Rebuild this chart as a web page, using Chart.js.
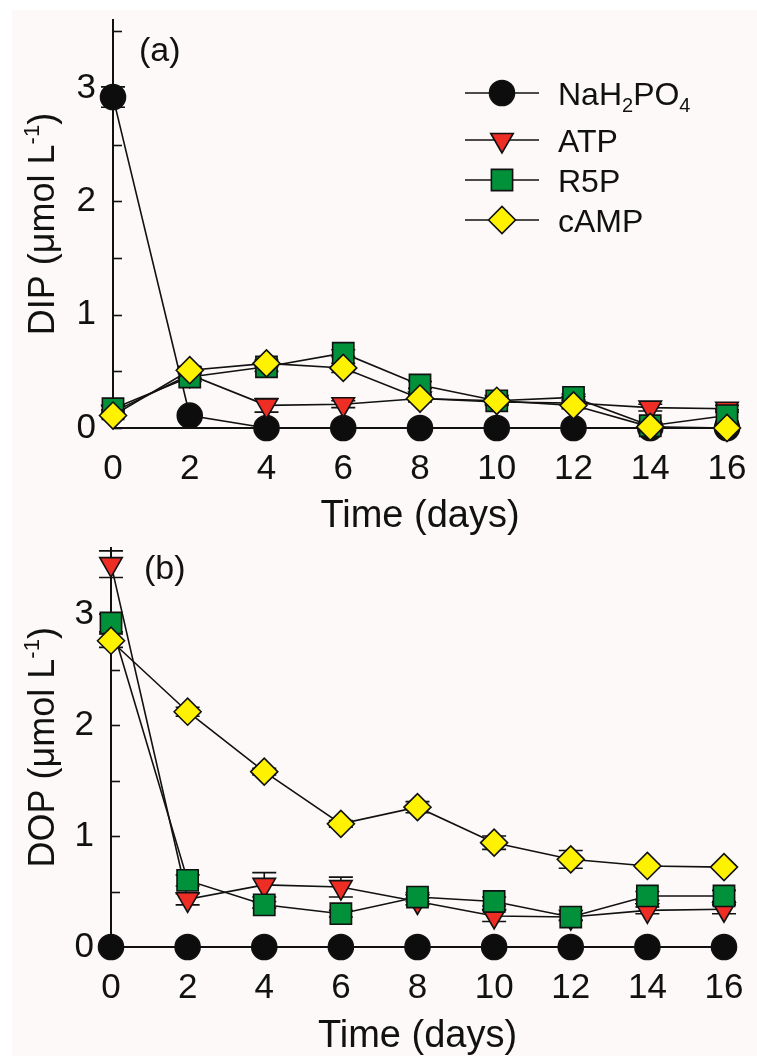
<!DOCTYPE html>
<html>
<head>
<meta charset="utf-8">
<script src="https://cdn.jsdelivr.net/npm/chart.js@4.4.1/dist/chart.umd.min.js"></script>
<style>
body{margin:0;background:#fff;width:757px;height:1056px;overflow:hidden;}
#bg{position:absolute;left:12px;top:10px;width:745px;height:1046px;background:#fcf9f8;}
canvas{position:absolute;left:0;}
</style>
</head>
<body>
<div id="bg"></div>
<canvas id="chartB" width="757" height="526" style="top:530px"></canvas>
<canvas id="chartA" width="757" height="545" style="top:0px"></canvas>
<script>
const days = [0, 2, 4, 6, 8, 10, 12, 14, 16];
const yTicks = [0, 1, 2, 3];
const yMinor = [0.5, 1.5, 2.5, 3.5];

// (a) DIP, umol/L
const dipNa   = [2.92, 0.11, 0, 0, 0, 0, 0, 0, 0];
const dipATP  = [0.14, 0.47, 0.20, 0.21, 0.26, 0.23, 0.22, 0.18, 0.17];
const dipR5P  = [0.17, 0.45, 0.54, 0.66, 0.38, 0.24, 0.27, 0.02, 0.11];
const dipCAMP = [0.11, 0.51, 0.57, 0.53, 0.26, 0.24, 0.20, 0.01, 0.00];
const dipNaErr   = [0.09, 0.02, 0, 0, 0, 0, 0, 0, 0];
const dipATPErr  = [0.02, 0.03, 0.06, 0.03, 0.02, 0.03, 0.03, 0.03, 0.03];
const dipR5PErr  = [0.03, 0.04, 0.04, 0.03, 0.03, 0.03, 0.03, 0.02, 0.05];
const dipCAMPErr = [0.02, 0.03, 0.03, 0.04, 0.03, 0.02, 0.03, 0.01, 0.02];

// (b) DOP, umol/L
const dopNa   = [0, 0, 0, 0, 0, 0, 0, 0, 0];
const dopATP  = [3.45, 0.43, 0.56, 0.54, 0.41, 0.28, 0.27, 0.33, 0.34];
const dopR5P  = [2.92, 0.60, 0.38, 0.30, 0.45, 0.41, 0.27, 0.46, 0.46];
const dopCAMP = [2.76, 2.12, 1.58, 1.11, 1.26, 0.94, 0.79, 0.73, 0.72];
const dopNaErr   = [0, 0, 0, 0, 0, 0, 0, 0, 0];
const dopATPErr  = [0.12, 0.05, 0.11, 0.09, 0.03, 0.05, 0.03, 0.03, 0.04];
const dopR5PErr  = [0.08, 0.05, 0.03, 0.03, 0.04, 0.04, 0.03, 0.04, 0.05];
const dopCAMPErr = [0.06, 0.04, 0.03, 0.03, 0.05, 0.06, 0.08, 0.02, 0.02];

const FONT = '"Liberation Sans", Arial, sans-serif';
Chart.defaults.font.family = FONT;
Chart.defaults.color = '#111';

// marker looks: NaH2PO4, ATP, R5P, cAMP
const looks = [
  {style: 'circle',  radius: 12.5, fill: '#0d0d0d', rot: 0},
  {style: 'triangle', radius: 13, fill: '#ee2d24', rot: 180},
  {style: 'rect',    radius: 15, fill: '#00913a', rot: 0},
  {style: 'rectRot', radius: 13.5, fill: '#fff200', rot: 0}
];

function makeSets(lists, errs){
  return lists.map((vals, k) => ({
    label: ['NaH2PO4', 'ATP', 'R5P', 'cAMP'][k],
    data: days.map((d, i) => ({x: d, y: vals[i]})),
    errors: errs[k],
    order: 4 - k,
    borderColor: '#111',
    borderWidth: 1.6,
    pointStyle: looks[k].style,
    pointRadius: looks[k].radius,
    pointHoverRadius: looks[k].radius,
    pointRotation: looks[k].rot,
    pointBackgroundColor: looks[k].fill,
    pointBorderColor: '#111',
    pointBorderWidth: 1.6,
    clip: false,
    tension: 0
  }));
}

// mixed text with sub/superscripts; parts = [[text, 0|'sub'|'sup'], ...]
function richWidth(ctx, parts, size){
  let w = 0;
  parts.forEach(p => {
    ctx.font = (p[1] ? Math.round(size * 0.62) : size) + 'px ' + FONT;
    w += ctx.measureText(p[0]).width;
  });
  return w;
}
function drawRich(ctx, parts, x, y, size){
  parts.forEach(p => {
    const s = p[1] ? Math.round(size * 0.62) : size;
    ctx.font = s + 'px ' + FONT;
    let dy = 0;
    if (p[1] === 'sub') dy = size * 0.22;
    if (p[1] === 'sup') dy = -size * 0.42;
    ctx.fillText(p[0], x, y + dy);
    x += ctx.measureText(p[0]).width;
  });
}

const decor = {
  id: 'decor',
  beforeDatasetsDraw(chart){
    const ctx = chart.ctx, y = chart.scales.y, x = chart.scales.x;
    const left = chart.chartArea.left;
    ctx.save();
    ctx.strokeStyle = '#111';
    ctx.lineWidth = 1.6;
    // inward y ticks
    yTicks.concat(yMinor).forEach(v => {
      const py = Math.round(y.getPixelForValue(v)) + 0.5;
      ctx.beginPath(); ctx.moveTo(left, py); ctx.lineTo(left + 9, py); ctx.stroke();
    });
    // error bars
    chart.data.datasets.forEach(ds => {
      ds.data.forEach((p, i) => {
        const e = ds.errors[i];
        if (!e) return;
        const px = x.getPixelForValue(p.x);
        const y1 = y.getPixelForValue(p.y + e), y2 = y.getPixelForValue(Math.max(0, p.y - e));
        ctx.beginPath();
        ctx.moveTo(px, y1); ctx.lineTo(px, y2);
        ctx.moveTo(px - 12, y1); ctx.lineTo(px + 12, y1);
        ctx.moveTo(px - 12, y2); ctx.lineTo(px + 12, y2);
        ctx.stroke();
      });
    });
    ctx.restore();
  },
  afterDraw(chart, args, opts){
    const ctx = chart.ctx, area = chart.chartArea;
    ctx.save();
    ctx.fillStyle = '#111';
    // y title
    const parts = [[opts.yName + ' (\u03bcmol L', 0], ['-1', 'sup'], [')', 0]];
    const w = richWidth(ctx, parts, 36);
    ctx.translate(opts.yTitleX, (area.top + area.bottom) / 2);
    ctx.rotate(-Math.PI / 2);
    ctx.textBaseline = 'alphabetic';
    drawRich(ctx, parts, -w / 2, 13, 36);
    ctx.restore();

    ctx.save();
    ctx.fillStyle = '#111';
    ctx.textBaseline = 'alphabetic';
    ctx.font = '38px ' + FONT;
    ctx.textAlign = 'center';
    ctx.fillText('Time (days)', (area.left + area.right) / 2, opts.xTitleY);
    ctx.textAlign = 'left';
    ctx.textBaseline = 'middle';
    ctx.font = '34px ' + FONT;
    ctx.fillText(opts.letter, opts.letterX, opts.letterY);

    if (opts.legend){
      const rows = [93, 140, 180, 220];
      const names = [
        [['NaH', 0], ['2', 'sub'], ['PO', 0], ['4', 'sub']],
        [['ATP', 0]], [['R5P', 0]], [['cAMP', 0]]
      ];
      rows.forEach((ry, k) => {
        ctx.strokeStyle = '#111';
        ctx.lineWidth = 1.6;
        ctx.beginPath(); ctx.moveTo(465, ry); ctx.lineTo(539, ry); ctx.stroke();
        ctx.fillStyle = looks[k].fill;
        ctx.strokeStyle = '#111';
        Chart.helpers.drawPoint(ctx, {
          pointStyle: looks[k].style, radius: looks[k].radius,
          rotation: looks[k].rot, borderWidth: 1.6
        }, 502, ry);
        ctx.fillStyle = '#111';
        ctx.textBaseline = 'alphabetic';
        drawRich(ctx, names[k], 558, ry + 12, 32);
      });
    }
    ctx.restore();
  }
};

function makeChart(id, lists, errs, pad, bottomH, yName, extra){
  return new Chart(document.getElementById(id), {
    type: 'line',
    data: {datasets: makeSets(lists, errs)},
    options: {
      responsive: false,
      animation: false,
      devicePixelRatio: 1,
      layout: {padding: pad},
      plugins: {
        legend: {display: false},
        tooltip: {enabled: false},
        decor: Object.assign({yName: yName}, extra)
      },
      scales: {
        x: {
          type: 'linear', min: 0, max: 16,
          afterBuildTicks: s => { s.ticks = days.map(v => ({value: v})); },
          afterFit: s => { s.height = bottomH; },
          grid: {display: true, drawOnChartArea: false, drawTicks: true, tickLength: 14, tickColor: 'rgba(0,0,0,0)'},
          border: {display: true, color: '#111', width: 2},
          ticks: {font: {size: 35}, color: '#111', padding: 6, maxRotation: 0}
        },
        y: {
          type: 'linear', min: 0, max: 3.6,
          afterBuildTicks: s => { s.ticks = yTicks.map(v => ({value: v})); },
          afterFit: s => { s.width = pad.yw; },
          grid: {display: true, drawOnChartArea: false, drawTicks: true, tickLength: 17, tickColor: 'rgba(0,0,0,0)'},
          border: {display: true, color: '#111', width: 2},
          ticks: {font: {size: 35, lineHeight: 1}, color: '#111', padding: 0}
        }
      }
    },
    plugins: [decor]
  });
}

makeChart('chartA', [dipNa, dipATP, dipR5P, dipCAMP],
  [dipNaErr, dipATPErr, dipR5PErr, dipCAMPErr],
  {top: 20, right: 30, left: 0, bottom: 0, yw: 113}, 117, 'DIP',
  {yTitleX: 41, xTitleY: 527, letter: '(a)', letterX: 139, letterY: 52, legend: true});

makeChart('chartB', [dopNa, dopATP, dopR5P, dopCAMP],
  [dopNaErr, dopATPErr, dopR5PErr, dopCAMPErr],
  {top: 11, right: 33, left: 0, bottom: 0, yw: 111}, 109, 'DOP',
  {yTitleX: 41, xTitleY: 517, letter: '(b)', letterX: 144, letterY: 40, legend: false});
</script>
</body>
</html>
